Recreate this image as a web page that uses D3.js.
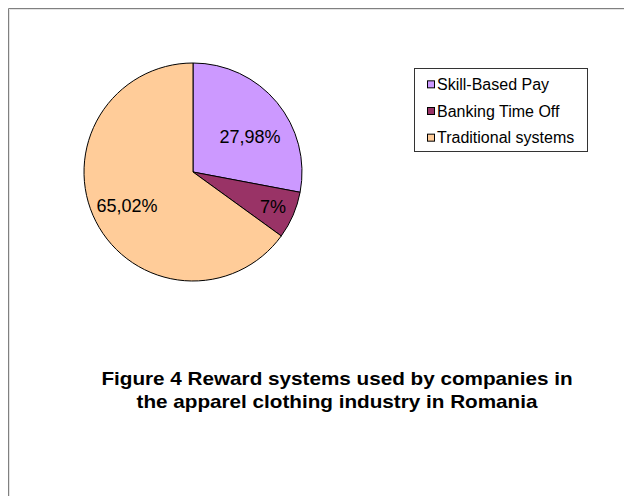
<!DOCTYPE html>
<html>
<head>
<meta charset="utf-8">
<script src="https://cdn.jsdelivr.net/npm/d3@7"></script>
<style>
  body { margin: 0; background: #fff; }
  text { font-family: Arial, "Liberation Sans", sans-serif; }
</style>
</head>
<body>
<div id="content"></div>
<script>
const width = 624;
const height = 496;

// data
const categories = ["Skill-Based Pay", "Banking Time Off", "Traditional systems"];
const values = [27.98, 7, 65.02];
const valueLabels = ["27,98%", "7%", "65,02%"];
const colors = ["#CC99FF", "#993366", "#FFCC99"];
const titleLines = ["Figure 4 Reward systems used by companies in",
                    "the apparel clothing industry in Romania"];

const pie_cx = 193, pie_cy = 172, radius = 109;

var svg = d3.select("#content").append("svg")
    .attr("width", width)
    .attr("height", height);

svg.append("rect").attr("width", width).attr("height", height).attr("fill", "#fff");

// page frame (top + left edge)
svg.append("line").attr("x1", 8.5).attr("y1", 8.5).attr("x2", width).attr("y2", 8.5)
    .attr("stroke", "#808080").attr("stroke-width", 1);
svg.append("line").attr("x1", 8.5).attr("y1", 8.5).attr("x2", 8.5).attr("y2", height)
    .attr("stroke", "#808080").attr("stroke-width", 1);
svg.append("line").attr("x1", 9.5).attr("y1", 9.5).attr("x2", width).attr("y2", 9.5)
    .attr("stroke", "#e4e4e4").attr("stroke-width", 1);
svg.append("line").attr("x1", 9.5).attr("y1", 9.5).attr("x2", 9.5).attr("y2", height)
    .attr("stroke", "#e4e4e4").attr("stroke-width", 1);

var pie = d3.pie().sort(null).value(d => d);
var arcs = pie(values);

var arc = d3.arc().innerRadius(0).outerRadius(radius);

var g = svg.append("g").attr("transform", `translate(${pie_cx},${pie_cy})`);

g.selectAll("path.slice").data(arcs).enter().append("path")
    .attr("class", "slice")
    .attr("d", arc)
    .attr("fill", (d, i) => colors[i])
    .attr("stroke", "#000")
    .attr("stroke-width", 1);

// labels, smaller slices pushed further out
var labelArc = d3.arc();
g.selectAll("text.lbl").data(arcs).enter().append("text")
    .attr("class", "lbl")
    .attr("transform", function(d) {
        var frac = (d.endAngle - d.startAngle) < 0.6 ? 0.8 : 0.68;
        var c = labelArc.innerRadius(radius * frac).outerRadius(radius * frac).centroid(d);
        if (d.index == 0) c[1] += 12;
        return `translate(${c[0]},${c[1]})`;
    })
    .attr("text-anchor", "middle")
    .attr("dy", "0.35em")
    .attr("font-size", 18)
    .attr("fill", "#000")
    .text((d, i) => valueLabels[i]);

// legend
var legend = svg.append("g").attr("transform", "translate(414,68)");
legend.append("rect")
    .attr("x", 0.5).attr("y", 0.5)
    .attr("width", 173).attr("height", 83)
    .attr("fill", "#fff").attr("stroke", "#333").attr("stroke-width", 1);

var ly = d3.scaleBand().domain(categories).range([3, 83]);

var item = legend.selectAll("g.item").data(categories).enter().append("g")
    .attr("class", "item")
    .attr("transform", d => `translate(0,${ly(d) + ly.bandwidth() / 2})`);

item.append("rect")
    .attr("x", 13.5).attr("y", -3.5)
    .attr("width", 7).attr("height", 7)
    .attr("fill", (d, i) => colors[i])
    .attr("stroke", "#000").attr("stroke-width", 1);

item.append("text")
    .attr("x", 23)
    .attr("dy", "0.36em")
    .attr("font-size", 16)
    .text(d => d);

// title
svg.selectAll("text.title").data(titleLines).enter().append("text")
    .attr("class", "title")
    .attr("transform", (d, i) => `translate(337,${385 + i * 23}) scale(1.15,1)`)
    .attr("text-anchor", "middle")
    .attr("font-size", 18)
    .attr("font-weight", "bold")
    .text(d => d);
</script>
</body>
</html>
